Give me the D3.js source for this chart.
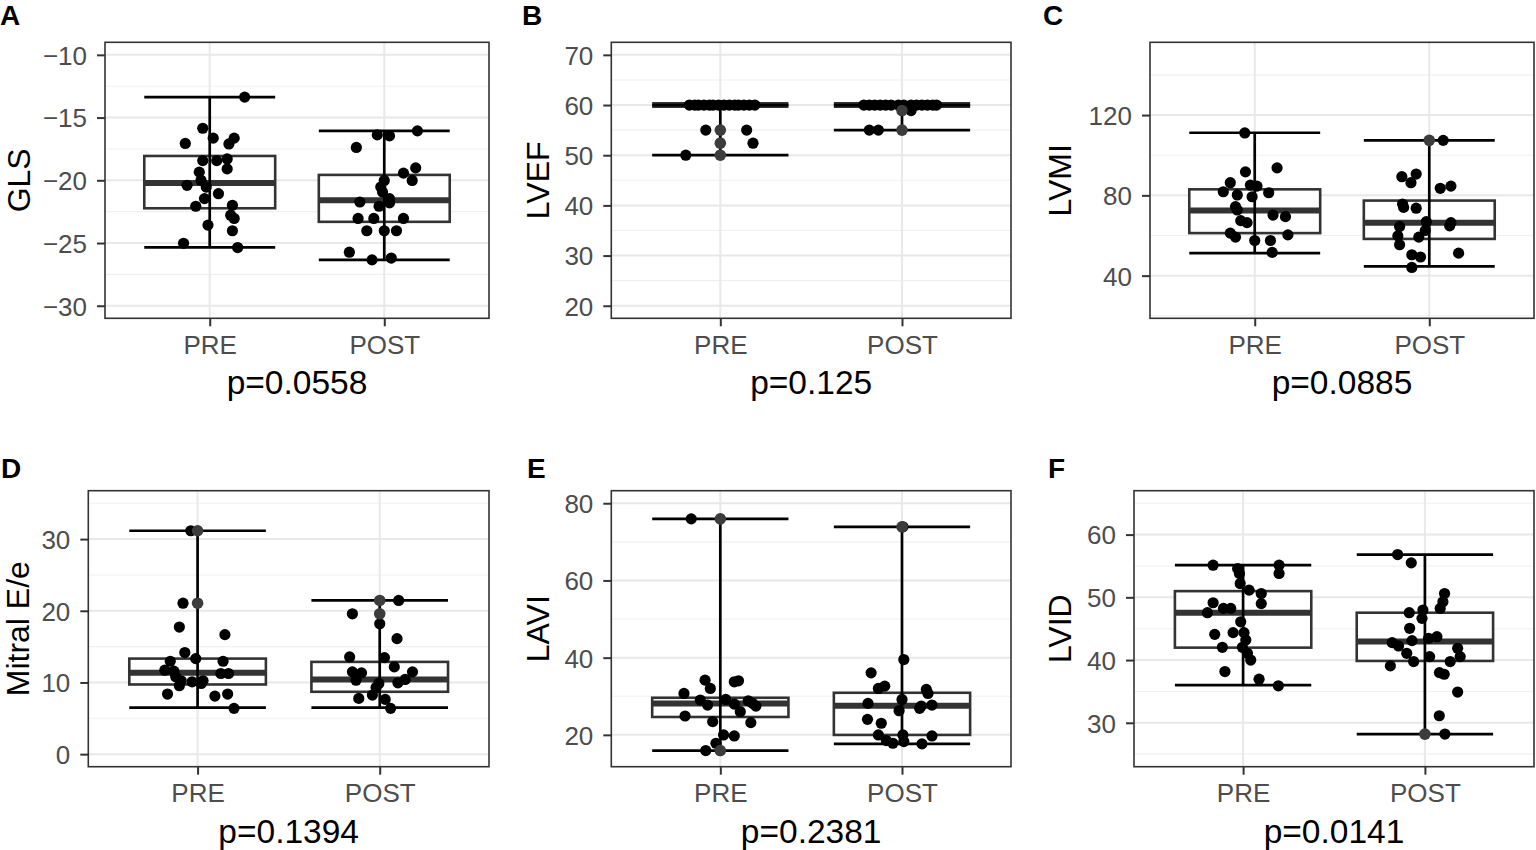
<!DOCTYPE html>
<html>
<head>
<meta charset="utf-8">
<script src="https://cdn.jsdelivr.net/npm/d3@7"></script>
<style>
  body { margin: 0; background: #fff; }
  svg { display: block; font-family: "Liberation Sans", Arial, Helvetica, sans-serif; }
</style>
</head>
<body>
<div id="chart"></div>
<script>
var groups = ['PRE', 'POST'];
var letters = ['A', 'B', 'C', 'D', 'E', 'F'];
var yTitles = ['GLS', 'LVEF', 'LVMI', 'Mitral E/e', 'LAVI', 'LVID'];
var pValues = ['p=0.0558', 'p=0.125', 'p=0.0885', 'p=0.1394', 'p=0.2381', 'p=0.0141'];

// points are [jitter (category units), value]
// box stats are [whisker low, q1, median, q3, whisker high]

// A - GLS
var glsLimits = [-30, -10];
var glsTicks = [-30, -25, -20, -15, -10];
var glsBoxPre = [-25.34, -22.23, -20.22, -18.06, -13.37];
var glsBoxPost = [-26.34, -23.31, -21.59, -19.57, -16.06];
var glsPre = [[0.20,-13.37],[-0.04,-15.85],[-0.14,-17.06],[0.02,-16.64],[0.14,-16.64],[0.11,-17.1],
  [-0.04,-18.43],[0.04,-18.43],[0.10,-18.3],[0.10,-19.09],[-0.06,-19.35],[-0.05,-20.0],[-0.13,-20.4],
  [-0.02,-20.54],[0.05,-21.07],[-0.03,-21.46],[-0.08,-22.07],[0.13,-21.99],[0.12,-22.78],[0.14,-23.04],
  [-0.01,-23.57],[0.13,-24.02],[-0.15,-25.02],[0.16,-25.36]];
var glsPost = [[0.19,-16.06],[-0.04,-16.38],[0.03,-16.46],[-0.16,-17.38],[0.18,-19.01],[0.11,-19.43],
  [0.16,-20.01],[0.0,-20.01],[-0.02,-20.54],[-0.01,-20.94],[0.03,-21.46],[-0.14,-21.73],[0.03,-21.8],
  [-0.03,-22.07],[-0.15,-23.04],[-0.06,-23.04],[0.11,-23.04],[-0.10,-24.02],[0.0,-24.02],[0.07,-24.02],
  [-0.20,-25.73],[-0.07,-26.34],[0.04,-26.2]];

// B - LVEF
var lvefLimits = [20, 70];
var lvefTicks = [20, 30, 40, 50, 60, 70];
var lvefBoxPre = [50, 60, 60, 60, 60];
var lvefBoxPost = [55, 60, 60, 60, 60];
var lvefPre = [[-0.17,60],[-0.14,60],[-0.12,60],[-0.09,60],[-0.06,60],[-0.04,60],[-0.01,60],[0.02,60],
  [0.05,60],[0.08,60],[0.10,60],[0.13,60],[0.16,60],[0.19,60],
  [-0.08,55],[0.145,55],[0.18,52.4],[-0.19,50]];
var lvefPost = [[-0.21,60],[-0.18,60],[-0.15,60],[-0.12,60],[-0.09,60],[-0.06,60],[-0.02,60],[0.01,60],
  [0.05,60],[0.08,60],[0.11,60],[0.14,60],[0.17,60],[0.19,60],
  [0.05,58.9],[-0.18,55],[-0.13,55]];

// C - LVMI
var lvmiLimits = [25, 150];
var lvmiTicks = [40, 80, 120];
var lvmiBoxPre = [51.2, 61.2, 72.4, 83.0, 111.2];
var lvmiBoxPost = [44.6, 58.3, 66.4, 77.4, 107.4];
var lvmiPre = [[-0.057,111.1],[0.128,93.7],[-0.053,91.7],[-0.14,86.3],[-0.025,85.1],[0.013,84.6],
  [-0.18,81.8],[0.08,81.3],[-0.10,80.2],[-0.015,79.3],[-0.11,74.4],[-0.10,72.7],[0.105,70.2],
  [0.176,69.4],[-0.08,67.4],[-0.044,66.4],[-0.14,61.2],[-0.11,59.2],[0.19,60.3],[0.0,57.5],
  [0.09,57.5],[0.10,51.6]];
var lvmiPost = [[0.08,107.4],[-0.157,89.3],[-0.075,90.6],[-0.105,86.3],[0.124,84.6],[0.063,83.5],
  [-0.153,75.7],[-0.147,74.0],[-0.075,73.6],[-0.017,66.9],[0.124,66.4],[0.117,64.8],[-0.17,64.5],
  [-0.023,62.5],[-0.18,59.8],[-0.06,59.2],[-0.17,55.4],[0.168,51.2],[-0.10,50.4],[-0.05,49.3],
  [-0.10,44.1]];

// D - Mitral E/e
var eeLimits = [0, 35];
var eeTicks = [0, 10, 20, 30];
var eeBoxPre = [6.48, 9.72, 11.34, 13.33, 31.16];
var eeBoxPost = [6.48, 8.7, 10.42, 12.87, 21.44];
var eePre = [[-0.037,31.16],[-0.08,21.06],[-0.10,17.73],[0.15,16.67],[-0.07,14.17],[-0.01,13.33],
  [-0.15,12.96],[0.14,12.96],[-0.18,11.71],[-0.13,11.57],[0.128,11.25],[0.17,11.25],[-0.12,10.79],
  [-0.09,10.23],[-0.03,10.09],[0.03,10.23],[0.02,9.86],[-0.10,9.54],[-0.165,8.38],[0.095,8.1],
  [0.165,8.38],[0.20,6.39]];
var eePost = [[0.104,21.44],[-0.15,19.58],[0.0,18.19],[0.095,16.11],[-0.165,13.56],[0.026,13.47],
  [0.08,12.17],[-0.15,11.48],[-0.10,11.34],[0.18,11.48],[-0.13,10.32],[0.14,10.42],[0.10,9.95],
  [-0.005,9.86],[-0.02,9.31],[-0.115,7.78],[-0.04,8.24],[0.03,7.64],[0.06,6.39]];

// E - LAVI
var laviLimits = [15, 80];
var laviTicks = [20, 40, 60, 80];
var laviBoxPre = [15.94, 24.63, 28.15, 29.61, 75.96];
var laviBoxPost = [17.66, 19.98, 27.55, 30.9, 73.9];
var laviPre = [[-0.16,75.96],[-0.084,34.17],[-0.055,32.02],[0.10,34.0],[0.077,33.74],[-0.20,30.73],
  [-0.11,29.01],[0.03,29.18],[0.154,28.84],[-0.07,27.72],[0.077,27.98],[0.196,27.46],[0.178,28.15],
  [0.11,26.0],[-0.194,24.88],[-0.042,23.42],[0.168,23.16],[0.018,19.98],[0.077,19.72],[-0.024,17.83],
  [-0.08,15.94]];
var laviPost = [[0.005,73.9],[0.01,39.5],[-0.17,36.06],[-0.095,32.62],[-0.13,32.02],[0.134,31.76],
  [0.143,30.73],[0.0,29.18],[-0.187,28.15],[0.106,27.46],[0.165,27.72],[0.097,26.86],[-0.016,26.26],
  [-0.19,24.02],[-0.114,23.0],[-0.13,19.98],[0.005,19.98],[0.165,19.72],[-0.086,18.52],[-0.05,17.83],
  [0.01,18.26],[0.11,17.66]];

// F - LVID
var lvidLimits = [25, 65];
var lvidTicks = [30, 40, 50, 60];
var lvidBoxPre = [36.0, 41.98, 47.55, 50.99, 55.12];
var lvidBoxPost = [28.2, 39.86, 42.94, 47.55, 56.82];
var lvidPre = [[-0.165,55.12],[0.198,55.12],[0.198,53.8],[-0.03,54.6],[-0.02,53.8],[-0.016,52.2],
  [0.033,51.15],[0.10,50.6],[0.10,49.0],[-0.165,49.14],[-0.108,48.24],[-0.068,48.24],[-0.196,47.55],
  [-0.013,46.1],[0.005,44.37],[-0.156,44.1],[-0.055,44.37],[0.015,43.2],[-0.114,42.03],[-0.004,42.03],
  [0.024,41.08],[0.042,40.0],[-0.10,38.17],[0.088,36.95],[0.194,35.9]];
var lvidPost = [[-0.15,56.82],[-0.075,55.5],[0.108,50.6],[0.099,49.3],[0.084,48.24],[-0.011,47.97],
  [-0.086,47.55],[-0.016,46.65],[-0.084,45.06],[0.066,43.73],[0.02,43.47],[-0.071,43.1],[-0.18,42.78],
  [-0.145,42.25],[-0.10,41.08],[0.18,41.88],[0.194,40.55],[0.026,40.55],[0.139,39.76],[-0.062,39.76],
  [-0.19,39.07],[0.08,38.0],[0.106,37.74],[0.18,34.9],[0.079,31.12],[0.11,28.2]];

var panels = [
  {limits: glsLimits,  ticks: glsTicks,  box: [glsBoxPre, glsBoxPost],   pts: [glsPre, glsPost],
   x0: 105,   x1: 489,  y0: 42.3,  y1: 318.3, titleX: 30,   lx: 0,    ly: 25},
  {limits: lvefLimits, ticks: lvefTicks, box: [lvefBoxPre, lvefBoxPost], pts: [lvefPre, lvefPost],
   x0: 611.3, x1: 1011, y0: 42.3,  y1: 318.3, titleX: 549,  lx: 522,  ly: 25},
  {limits: lvmiLimits, ticks: lvmiTicks, box: [lvmiBoxPre, lvmiBoxPost], pts: [lvmiPre, lvmiPost],
   x0: 1150,  x1: 1534, y0: 42.3,  y1: 318.3, titleX: 1071, lx: 1043, ly: 25},
  {limits: eeLimits,   ticks: eeTicks,   box: [eeBoxPre, eeBoxPost],     pts: [eePre, eePost],
   x0: 88.3,  x1: 489,  y0: 490.7, y1: 766.7, titleX: 29,   lx: 1,    ly: 478},
  {limits: laviLimits, ticks: laviTicks, box: [laviBoxPre, laviBoxPost], pts: [laviPre, laviPost],
   x0: 611.3, x1: 1011, y0: 490.7, y1: 766.7, titleX: 549,  lx: 527,  ly: 478},
  {limits: lvidLimits, ticks: lvidTicks, box: [lvidBoxPre, lvidBoxPost], pts: [lvidPre, lvidPost],
   x0: 1134,  x1: 1534, y0: 490.7, y1: 766.7, titleX: 1071, lx: 1048, ly: 478}
];

var svg = d3.select('#chart').append('svg').attr('width', 1536).attr('height', 850);

function drawPanel(p, i) {
  var pad = (p.limits[1] - p.limits[0]) * 0.05;
  var lo = p.limits[0] - pad, hi = p.limits[1] + pad;
  var y = d3.scaleLinear().domain([lo, hi]).range([p.y1, p.y0]);
  var x = d3.scalePoint().domain(groups).range([p.x0, p.x1]).padding(0.6);
  var step = x.step();
  var g = svg.append('g');

  // minor grid halfway between breaks
  var tstep = p.ticks[1] - p.ticks[0];
  var minors = [];
  for (var v = p.ticks[0] - tstep / 2; v <= hi; v += tstep) if (v >= lo) minors.push(v);

  g.selectAll('.minor').data(minors).enter().append('line')
    .attr('x1', p.x0).attr('x2', p.x1)
    .attr('y1', function(d){ return y(d); }).attr('y2', function(d){ return y(d); })
    .style('stroke', '#f0f0f0').style('stroke-width', 1.1);
  g.selectAll('.major').data(p.ticks).enter().append('line')
    .attr('x1', p.x0).attr('x2', p.x1)
    .attr('y1', function(d){ return y(d); }).attr('y2', function(d){ return y(d); })
    .style('stroke', '#e8e8e8').style('stroke-width', 2);
  g.selectAll('.vgrid').data(groups).enter().append('line')
    .attr('x1', function(d){ return x(d); }).attr('x2', function(d){ return x(d); })
    .attr('y1', p.y0).attr('y2', p.y1)
    .style('stroke', '#e8e8e8').style('stroke-width', 2);

  var bw = step * 0.75;
  var stats = groups.map(function(k, j){ return {key: k, s: p.box[j]}; });

  // boxes
  var boxes = g.selectAll('.box').data(stats).enter().append('g');
  boxes.append('rect')
    .attr('x', function(d){ return x(d.key) - bw / 2; })
    .attr('y', function(d){ return y(d.s[3]); })
    .attr('width', bw)
    .attr('height', function(d){ return Math.max(0, y(d.s[1]) - y(d.s[3])); })
    .style('fill', '#fff').style('stroke', '#333').style('stroke-width', 2.6);
  boxes.append('line')
    .attr('x1', function(d){ return x(d.key) - bw / 2; })
    .attr('x2', function(d){ return x(d.key) + bw / 2; })
    .attr('y1', function(d){ return y(d.s[2]); }).attr('y2', function(d){ return y(d.s[2]); })
    .style('stroke', '#333').style('stroke-width', 6);

  // error bars min..max
  var eb = g.selectAll('.eb').data(stats).enter().append('g')
    .style('stroke', '#000').style('stroke-width', 2.7);
  eb.append('line')
    .attr('x1', function(d){ return x(d.key); }).attr('x2', function(d){ return x(d.key); })
    .attr('y1', function(d){ return y(d.s[0]); }).attr('y2', function(d){ return y(d.s[4]); });
  [0, 4].forEach(function(k){
    eb.append('line')
      .attr('x1', function(d){ return x(d.key) - bw / 2; })
      .attr('x2', function(d){ return x(d.key) + bw / 2; })
      .attr('y1', function(d){ return y(d.s[k]); }).attr('y2', function(d){ return y(d.s[k]); });
  });

  // jittered points
  groups.forEach(function(k, j){
    g.selectAll('.pt' + j).data(p.pts[j]).enter().append('circle')
      .attr('cx', function(d){ return x(k) + d[0] * step; })
      .attr('cy', function(d){ return y(d[1]); })
      .attr('r', 5.6)
      .style('fill', '#000');
  });

  // boxplot outliers (beyond 1.5 IQR), drawn at the group centre
  groups.forEach(function(k, j){
    var s = p.box[j], iqr = s[3] - s[1];
    var out = [];
    p.pts[j].forEach(function(d){
      if ((d[1] < s[1] - 1.5 * iqr || d[1] > s[3] + 1.5 * iqr) && out.indexOf(d[1]) < 0) out.push(d[1]);
    });
    g.selectAll('.out' + j).data(out).enter().append('circle')
      .attr('cx', x(k))
      .attr('cy', function(d){ return y(d); })
      .attr('r', 5.8)
      .style('fill', '#3c3c3c');
  });

  // panel border
  g.append('rect')
    .attr('x', p.x0).attr('y', p.y0)
    .attr('width', p.x1 - p.x0).attr('height', p.y1 - p.y0)
    .style('fill', 'none').style('stroke', '#333').style('stroke-width', 1.6);

  // axes
  var ya = g.append('g').attr('transform', 'translate(' + p.x0 + ',0)')
    .call(d3.axisLeft(y).tickValues(p.ticks).tickSize(8).tickPadding(10));
  var xa = g.append('g').attr('transform', 'translate(0,' + p.y1 + ')')
    .call(d3.axisBottom(x).tickSize(8).tickPadding(9));
  [ya, xa].forEach(function(a){
    a.select('.domain').remove();
    a.selectAll('line').style('stroke', '#333').style('stroke-width', 2);
    a.selectAll('text').style('fill', '#4d4d4d').style('font-size', '26px')
      .style('font-family', '"Liberation Sans", Arial, sans-serif');
  });
  ya.selectAll('text').attr('dy', '0.36em');

  // y title
  g.append('text')
    .attr('transform', 'translate(' + p.titleX + ',' + ((p.y0 + p.y1) / 2) + ') rotate(-90)')
    .attr('text-anchor', 'middle')
    .style('font-size', '32px').style('fill', '#000')
    .text(yTitles[i]);

  // p-value as x title
  g.append('text')
    .attr('x', (p.x0 + p.x1) / 2).attr('y', p.y1 + 76)
    .attr('text-anchor', 'middle')
    .style('font-size', '33.5px').style('fill', '#000')
    .text(pValues[i]);

  // panel tag
  g.append('text')
    .attr('x', p.lx).attr('y', p.ly)
    .style('font-size', '28px').style('font-weight', 'bold').style('fill', '#000')
    .text(letters[i]);
}

panels.forEach(drawPanel);
</script>
</body>
</html>
